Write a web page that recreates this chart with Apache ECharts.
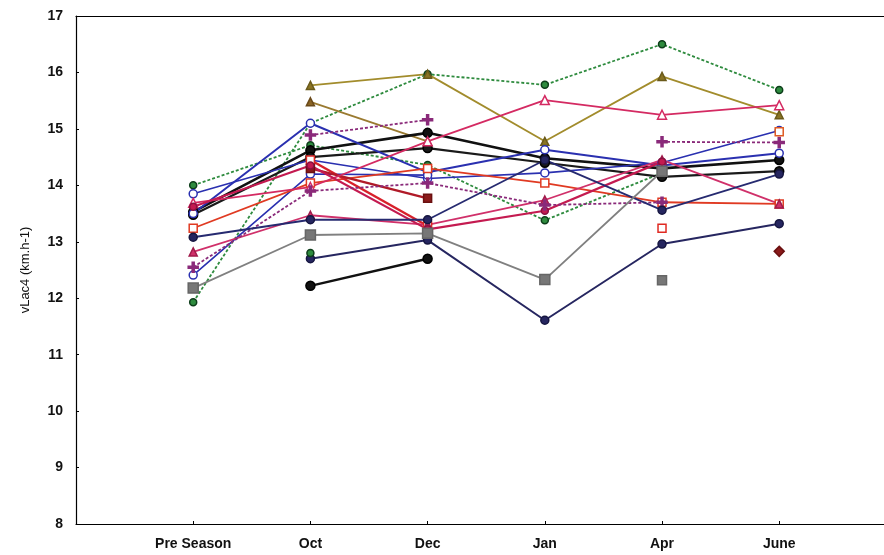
<!DOCTYPE html>
<html>
<head>
<meta charset="utf-8">
<script src="https://cdn.jsdelivr.net/npm/echarts@6/dist/echarts.min.js"></script>
<style>
  html, body { margin: 0; padding: 0; background: #fff; }
  #chart { width: 884px; height: 555px; }
</style>
</head>
<body>
<div id="chart"></div>
<script>
// Test sessions along the x axis
const categories = ['Pre Season', 'Oct', 'Dec', 'Jan', 'Apr', 'June'];
const yMin = 8, yMax = 17, yStep = 1;

// vLac4 per athlete (km.h-1); null = no test at that session
const athleteA = [11.93, 15.10, 15.97, 15.78, 16.50, 15.69];
const athleteB = [14.00, 14.71, 14.36, 13.38, 14.22, null];
const athleteC = [null, 15.77, 15.97, 14.78, 15.93, 15.25];
const athleteD = [null, 15.48, 14.78, null, null, null];
const athleteE = [13.53, 14.62, 14.93, 14.48, 14.30, 14.45];
const athleteF = [13.48, 14.50, 14.66, 14.40, 14.15, 14.25];
const athleteG = [13.50, 15.10, 14.23, 14.63, 14.35, 14.57];
const athleteH = [13.85, 14.45, 14.12, 14.22, 14.40, 14.97];
const athleteI = [12.41, 14.20, 14.18, null, null, null];
const athleteJ = [13.24, 14.04, 14.30, 14.04, 13.70, 13.67];
const athleteK = [null, 14.45, 13.28, null, 13.24, null];
const athleteL = [null, 14.30, 13.77, null, null, null];
const athleteM = [12.82, 13.47, 13.30, 13.74, 14.45, 13.67];
const athleteN = [13.69, 13.97, 14.78, 15.51, 15.25, 15.42];
const athleteO = [13.62, 14.35, 13.22, 13.55, 14.42, null];
const athleteP = [12.55, 13.90, 14.04, 13.65, 13.70, null];
const athleteQ = [null, 14.89, 15.16, null, 14.77, 14.76];
const athleteR = [13.08, 13.39, 13.39, 14.45, 13.56, 14.20];
const athleteS = [null, 12.70, 13.03, 11.61, 12.96, 13.32];
const athleteT = [12.18, 13.12, 13.15, 12.33, 14.25, null];
const athleteU = [null, null, null, null, 12.32, null];
const athleteV = [null, 12.22, 12.70, null, null, null];
const athleteW = [null, 12.80, null, null, null, null];
const athleteX = [null, null, null, null, null, 14.95];
const athleteY = [null, null, null, null, null, 12.83];

const plus = 'path://M4,0H6V4H10V6H6V10H4V6H0V4H4Z';

// Drawing style for each athlete's line
const looks = [
  { d: athleteA, c: '#2e8b3e', dash: [3, 2], sym: 'circle', fill: '#2e8b3e', edge: '#0d3d1a', w: 1.8, s: 7 },
  { d: athleteB, c: '#2e8b3e', dash: [3, 2], sym: 'circle', fill: '#2e8b3e', edge: '#0d3d1a', w: 1.8, s: 7 },
  { d: athleteC, c: '#a28c2c', dash: 'solid', sym: 'triangle', fill: '#8a7424', edge: '#6a5a1a', w: 1.8, s: 8 },
  { d: athleteD, c: '#9a7a30', dash: 'solid', sym: 'triangle', fill: '#8a6424', edge: '#6a4a1a', w: 1.8, s: 8 },
  { d: athleteE, c: '#111111', dash: 'solid', sym: 'circle', fill: '#111111', edge: '#000', w: 2.6, s: 9 },
  { d: athleteF, c: '#1a1a1a', dash: 'solid', sym: 'circle', fill: '#1a1a1a', edge: '#000', w: 2.2, s: 9 },
  { d: athleteG, c: '#2a30b0', dash: 'solid', sym: 'circle', fill: '#ffffff', edge: '#2a30b0', w: 2, s: 8 },
  { d: athleteH, c: '#2a30b0', dash: 'solid', sym: 'circle', fill: '#ffffff', edge: '#2a30b0', w: 1.6, s: 8 },
  { d: athleteI, c: '#2a30b0', dash: 'solid', sym: 'circle', fill: '#ffffff', edge: '#2a30b0', w: 1.6, s: 8 },
  { d: athleteJ, c: '#e03a22', dash: 'solid', sym: 'rect', fill: '#ffffff', edge: '#e03a22', w: 1.8, s: 8 },
  { d: athleteK, c: '#d8202a', dash: 'solid', sym: 'rect', fill: '#ffffff', edge: '#e02a22', w: 2.4, s: 8 },
  { d: athleteL, c: '#b01a28', dash: 'solid', sym: 'rect', fill: '#8a1a1a', edge: '#6a1010', w: 2.4, s: 8 },
  { d: athleteM, c: '#d0306a', dash: 'solid', sym: 'triangle', fill: '#d0306a', edge: '#a01a4a', w: 1.8, s: 8 },
  { d: athleteN, c: '#d42a62', dash: 'solid', sym: 'triangle', fill: '#ffffff', edge: '#d42a62', w: 1.8, s: 9 },
  { d: athleteO, c: '#c41a50', dash: 'solid', sym: 'circle', fill: '#c41a50', edge: '#8a1040', w: 2.2, s: 7 },
  { d: athleteP, c: '#8a2a7a', dash: [3, 2], sym: plus, fill: '#8a2a7a', edge: '#8a2a7a', w: 1.8, s: 10 },
  { d: athleteQ, c: '#8a2a7a', dash: [3, 2], sym: plus, fill: '#8a2a7a', edge: '#8a2a7a', w: 1.8, s: 10 },
  { d: athleteR, c: '#262a70', dash: 'solid', sym: 'circle', fill: '#262660', edge: '#161640', w: 1.8, s: 8 },
  { d: athleteS, c: '#262660', dash: 'solid', sym: 'circle', fill: '#262660', edge: '#161640', w: 2, s: 8 },
  { d: athleteT, c: '#808080', dash: 'solid', sym: 'rect', fill: '#777777', edge: '#666', w: 1.8, s: 10 },
  { d: athleteU, c: '#808080', dash: 'solid', sym: 'rect', fill: '#777777', edge: '#666', w: 1.8, s: 9 },
  { d: athleteV, c: '#111111', dash: 'solid', sym: 'circle', fill: '#111111', edge: '#000', w: 2.4, s: 9 },
  { d: athleteW, c: '#2e8b3e', dash: [3, 2], sym: 'circle', fill: '#2e8b3e', edge: '#0d3d1a', w: 1.8, s: 7 },
  { d: athleteX, c: '#e05a22', dash: 'solid', sym: 'rect', fill: '#ffffff', edge: '#e05a22', w: 1.8, s: 8 },
  { d: athleteY, c: '#8a1a1a', dash: 'solid', sym: 'diamond', fill: '#8a1a1a', edge: '#6a1010', w: 1.8, s: 10 }
];

const series = looks.map((l, i) => ({
  type: 'line',
  name: 'athlete' + (i + 1),
  data: l.d.map((v, k) => [k + 1, v]),
  connectNulls: false,
  symbol: l.sym,
  symbolSize: l.s,
  showAllSymbol: true,
  lineStyle: { color: l.c, width: l.w, type: l.dash },
  itemStyle: { color: l.fill, borderColor: l.edge, borderWidth: 1.5 },
  emphasis: { disabled: true },
  animation: false
}));

const fontFam = '"Liberation Sans", Arial, sans-serif';
const xMax = 6.894;

const chart = echarts.init(document.getElementById('chart'), null, { renderer: 'canvas' });
chart.setOption({
  backgroundColor: '#ffffff',
  animation: false,
  grid: { left: 76, right: 0, top: 16, bottom: 31, containLabel: false },
  xAxis: [
    {
      type: 'value', min: 0, max: xMax, interval: 1,
      splitLine: { show: false },
      axisLine: { show: true, onZero: false, lineStyle: { color: '#000', width: 1.2 } },
      axisTick: { show: true, inside: true, length: 3, lineStyle: { color: '#000' } },
      axisLabel: {
        show: true, margin: 13, showMaxLabel: false, showMinLabel: false,
        fontFamily: fontFam, fontWeight: 'bold', fontSize: 14, color: '#111',
        formatter: v => (v >= 1 && v <= categories.length && Math.abs(v - Math.round(v)) < 1e-6) ? categories[Math.round(v) - 1] : ''
      }
    },
    {
      type: 'value', position: 'top', min: 0, max: xMax,
      splitLine: { show: false },
      axisLine: { show: true, onZero: false, lineStyle: { color: '#000', width: 1.2 } },
      axisTick: { show: false }, axisLabel: { show: false }
    }
  ],
  yAxis: {
    type: 'value', min: yMin, max: yMax, interval: yStep,
    name: 'vLac4 (km.h-1)', nameLocation: 'middle', nameGap: 44, nameRotate: 90,
    nameTextStyle: { fontFamily: fontFam, fontSize: 13, color: '#111' },
    splitLine: { show: false },
    axisLine: { show: true, onZero: false, lineStyle: { color: '#000', width: 1.2 } },
    axisTick: { show: true, inside: true, length: 3, lineStyle: { color: '#000' } },
    axisLabel: { margin: 13, fontFamily: fontFam, fontWeight: 'bold', fontSize: 14, color: '#111' }
  },
  series: series
});
</script>
</body>
</html>
